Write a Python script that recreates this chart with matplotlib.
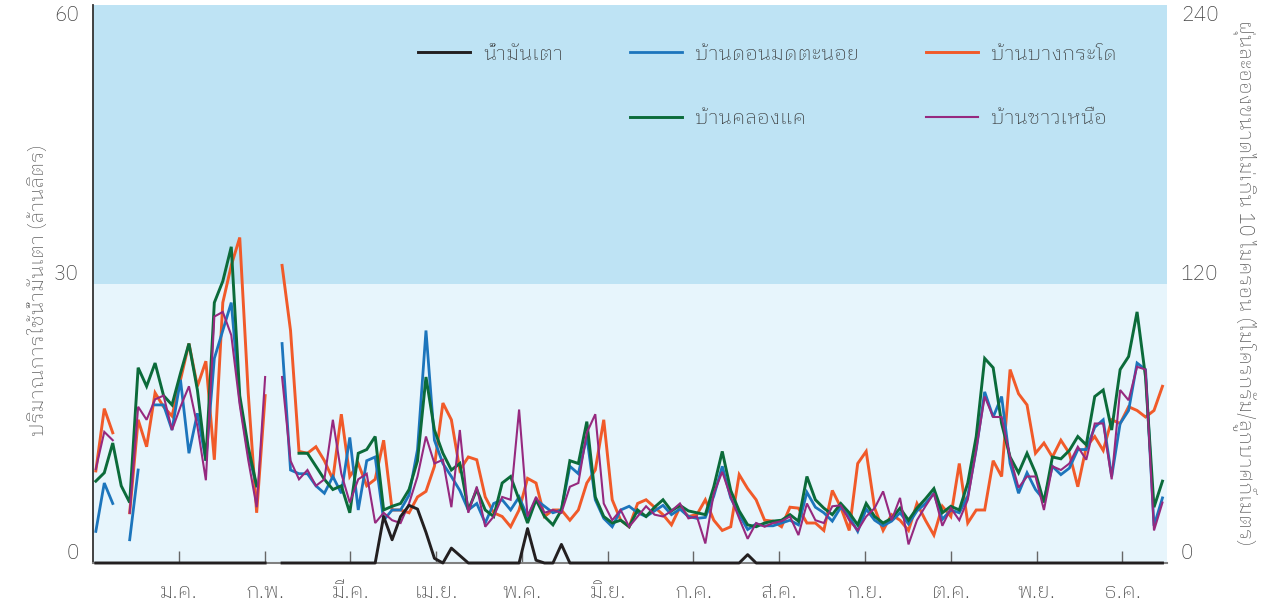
import matplotlib
matplotlib.use("Agg")
import matplotlib.pyplot as plt
import numpy as np
from matplotlib.lines import Line2D

plt.rcParams["font.family"] = ["IBM Plex Sans Thai Looped", "DejaVu Sans"]
plt.rcParams["font.weight"] = "light"

nan = np.nan

# ค่ารายวัน (ทุก 3 วัน) ตลอดช่วงข้อมูล
# น้ำมันเตา (ล้านลิตร) - แกนซ้าย
oil = [0, 0, 0, 0, 0, 0, 0, 0, 0, 0, 0, 0, 0, 0, 0, 0, 0, 0, 0, 0,
       0, nan, 0, 0, 0, 0, 0, 0, 0, 0, 0, 0, 0, 0, 5.0, 2.5, 5.0, 6.2, 5.8, 3.3,
       0.5, 0, 1.6, 0.8, 0, 0, 0, 0, 0, 0, 0, 3.7, 0.3, 0, 0, 2.0, 0, 0, 0, 0,
       0, 0, 0, 0, 0, 0, 0, 0, 0, 0, 0, 0, 0, 0, 0, 0, 0, 0.9, 0, 0,
       0, 0, 0, 0, 0, 0, 0, 0, 0, 0, 0, 0, 0, 0, 0, 0, 0, 0, 0, 0,
       0, 0, 0, 0, 0, 0, 0, 0, 0, 0, 0, 0, 0, 0, 0, 0, 0, 0, 0, 0,
       0, 0, 0, 0, 0, 0, 0]

# PM10 รายสถานี (ไมโครกรัม/ลูกบาศก์เมตร) - แกนขวา (เก็บในหน่วยแกนซ้าย x 4)
don_mod = [3.4, 8.6, 6.4, nan, 2.5, 10, nan, 17, 17, 14.3, 19.7, 11.8, 16.1, 11, 22, 25, 28, 17.5, 11.8, 8.3,
           nan, nan, 23.6, 10, 9.6, 9.6, 8.3, 7.5, 9.3, 7.5, 13.5, 5.7, 11, 11.4, 4.6, 5.7, 5.7, 7.3, 12.2, 25,
           13.2, 10.7, 9.3, 7.8, 5.7, 6.4, 4.3, 6.4, 6.8, 5.7, 7.1, 5.0, 6.8, 6.1, 5.4, 5.7, 10.4, 9.6, 13.6, 6.8,
           4.8, 3.9, 5.7, 6.1, 5.4, 5.0, 5.6, 6.2, 5.2, 5.8, 5.0, 4.8, 4.9, 7.2, 10.4, 7.0, 5.2, 3.6, 4.2, 4.0,
           4.0, 4.3, 4.6, 4.1, 7.6, 6.0, 5.4, 4.5, 6.0, 5.0, 3.4, 5.8, 4.6, 4.0, 4.5, 5.4, 4.2, 5.6, 6.4, 7.5,
           4.7, 5.7, 5.4, 7.2, 12.2, 18.4, 15.7, 17.9, 10.7, 7.5, 9.7, 7.9, 6.8, 10.4, 9.5, 10.2, 12.2, 12.2, 14.6, 15.4,
           9.3, 15.0, 16.4, 21.5, 20.8, 4.0, 7.0]

bang_krado = [9.9, 16.6, 14, nan, 5.4, 15.4, 12.5, 18.3, 16.8, 15.8, 19.7, 23.6, 19, 21.7, 11.1, 28, 32, 35, 18.3, 5.4,
              18, nan, 32, 25, 12, 11.8, 12.5, 11, 9, 16, 9.3, 10.7, 8.3, 9, 13.2, 5.7, 5.7, 5.4, 7.1, 7.7,
              10.4, 17.2, 15.4, 10, 11.4, 11.1, 7.1, 5.4, 5, 3.9, 5.7, 9.1, 8.6, 5, 5.7, 5.7, 4.6, 5.7, 8.6, 10,
              15.4, 6.8, 4.6, 3.9, 6.4, 6.8, 6.0, 5.2, 4.1, 6.0, 5.0, 5.2, 6.8, 4.6, 3.5, 3.9, 9.5, 8, 6.8, 4.6,
              4.5, 3.9, 6.0, 5.9, 4.3, 4.3, 3.5, 7.8, 6.0, 3.5, 10.7, 12, 5.9, 3.5, 5.2, 4.6, 3.5, 6.4, 4.6, 3.0,
              6.1, 5.0, 10.7, 4.3, 5.7, 5.7, 11, 9.3, 20.8, 18.2, 17, 11.8, 12.9, 11.4, 13.2, 11.8, 8.2, 12.5, 13.6, 12.1,
              15.4, 15.0, 16.8, 16.4, 15.7, 16.4, 19]

khlong_khae = [8.8, 9.7, 12.9, 8.3, 6.5, 21, 19, 21.5, 18, 17, 20.4, 23.6, 18.6, 11, 28, 30.3, 34, 18, 12.5, 8.3,
               nan, nan, nan, nan, 11.8, 11.8, 10.4, 9, 7.9, 8.3, 5.4, 11.8, 12.2, 13.6, 5.7, 6.1, 6.4, 7.9, 11, 20,
               14.3, 11.8, 10, 10.7, 5.7, 7.9, 5.7, 5, 8.6, 9.3, 6.8, 4.3, 6.8, 5, 4.1, 5.7, 11, 10.7, 15.2, 7.1,
               5, 4.3, 4.6, 3.9, 5.7, 5, 6.0, 6.8, 5.6, 6.2, 5.6, 5.4, 5.2, 8.2, 12, 7.8, 5.6, 4.1, 3.9, 4.3,
               4.5, 4.6, 5.2, 4.5, 9.3, 6.8, 5.9, 5.2, 6.4, 5.4, 4.1, 6.4, 5.0, 4.3, 4.8, 5.9, 4.6, 5.9, 6.9, 8.0,
               5.4, 6.1, 5.7, 8.6, 13.6, 22, 21, 15, 11.4, 9.7, 11.8, 9.7, 6.5, 11.4, 11.2, 12.1, 13.6, 12.7, 17.9, 18.6,
               14.3, 20.8, 22.2, 27, 20, 6.0, 8.8]

chao_nuea = [10.1, 14.1, 13.2, nan, 5.4, 16.8, 15.4, 17.6, 18, 14.3, 16.8, 19, 14.7, 8.9, 26.5, 27, 24.5, 17, 11.1, 6,
             20, nan, 20, 11, 9, 10, 8.3, 9, 15.4, 9.6, 6.5, 9, 9.6, 4.3, 5.4, 4.6, 4.3, 6.4, 9.3, 13.6,
             10.7, 11.1, 6, 14.3, 5.4, 8.2, 3.9, 5.0, 7.1, 6.8, 16.5, 5, 7.1, 5.4, 5.7, 5.4, 8.2, 8.6, 14, 16,
             6.4, 4.6, 5.7, 3.9, 5, 6.1, 5.2, 5.0, 5.6, 6.4, 4.8, 5.0, 2.1, 7.5, 9.8, 7.1, 4.8, 2.6, 4.3, 3.9,
             4.3, 4.5, 5.0, 3.0, 6.4, 4.6, 4.3, 6.1, 6.2, 4.6, 3.5, 5.0, 5.9, 7.7, 4.6, 7.0, 2.0, 4.6, 6.1, 7.5,
             4.0, 5.9, 4.6, 6.8, 12.2, 17.9, 15.7, 15.7, 11.4, 8.1, 9.3, 9.3, 5.7, 10.4, 10, 10.7, 12.5, 11.1, 15, 15,
             9, 18.6, 17.5, 21.1, 20.8, 3.5, 6.5]

months = ["ม.ค.", "ก.พ.", "มี.ค.", "เม.ย.", "พ.ค.", "มิ.ย.",
          "ก.ค.", "ส.ค.", "ก.ย.", "ต.ค.", "พ.ย.", "ธ.ค."]

series = [
    ("บ้านบางกระโด", bang_krado, "#f15a29", 2.1),
    ("บ้านดอนมดตะนอย", don_mod, "#1c75bc", 2.0),
    ("บ้านคลองแค", khlong_khae, "#0b6b3a", 2.1),
    ("บ้านชาวเหนือ", chao_nuea, "#96297f", 1.5),
]

day = np.arange(len(oil)) * 3 + 1
x = day / 30.4  # ตำแหน่งในหน่วยเดือน

fig = plt.figure(figsize=(12.73, 6.07), dpi=100)
ax = fig.add_axes([93 / 1273, 44 / 607, 1074 / 1273, 558 / 607])

ax.axhspan(30, 60, color="#bee3f4", lw=0, zorder=0)
ax.axhspan(0, 30, color="#e7f5fc", lw=0, zorder=0)

handles = {}
for name, vals, col, lw in series:
    (ln,) = ax.plot(x, vals, color=col, lw=lw, solid_joinstyle="miter", zorder=3)
    handles[name] = ln
(oil_ln,) = ax.plot(x, oil, color="#231f20", lw=2.1, zorder=4, clip_on=False)

ax.set_xlim(0, 12.52)
ax.set_ylim(0, 60)
ax.set_yticks([0, 30, 60])
ax.set_xticks(np.arange(1, 13))
ax.set_xticklabels(months)

for s in ("top", "right"):
    ax.spines[s].set_visible(False)
ax.spines["left"].set_color("#333333")
ax.spines["left"].set_linewidth(1.3)
ax.spines["bottom"].set_color("#808080")
ax.spines["bottom"].set_linewidth(1.5)

ax.tick_params(axis="y", length=0, pad=10, labelsize=15, labelcolor="#444444")
ax.tick_params(axis="x", direction="in", length=8.5, width=1, color="#666666",
               pad=14, labelsize=15, labelcolor="#444444")

ax2 = ax.twinx()
ax2.set_ylim(0, 240)
ax2.set_yticks([0, 120, 240])
for s in ax2.spines.values():
    s.set_visible(False)
ax2.tick_params(axis="y", length=0, pad=10, labelsize=15, labelcolor="#444444")

# ป้ายค่าบนสุดอยู่ใต้ขอบ ป้ายศูนย์อยู่เหนือเส้นฐาน
for axis in (ax, ax2):
    labels = axis.get_yticklabels()
    labels[0].set_va("bottom")
    labels[1].set_va("bottom")
    labels[2].set_va("top")

fig.text(38 / 1273, 1 - 290 / 607, "ปริมาณการใช้น้ำมันเตา (ล้านลิตร)", rotation=90,
         ha="center", va="center", fontsize=14.5, color="#555555")
fig.text(1245 / 1273, 1 - 283 / 607,
         "ฝุ่นละอองขนาดไม่เกิน 10 ไมครอน (ไมโครกรัม/ลูกบาศก์เมตร)", rotation=270,
         ha="center", va="center", fontsize=14.5, color="#555555")

blank = Line2D([], [], color="none")
leg_handles = [oil_ln, blank, handles["บ้านดอนมดตะนอย"], handles["บ้านคลองแค"],
               handles["บ้านบางกระโด"], handles["บ้านชาวเหนือ"]]
leg_labels = ["น้ำมันเตา", "", "บ้านดอนมดตะนอย", "บ้านคลองแค", "บ้านบางกระโด", "บ้านชาวเหนือ"]
leg = ax.legend(leg_handles, leg_labels, ncols=3, loc="upper left",
                bbox_to_anchor=(0.3026, 0.931), frameon=False, fontsize=14.5,
                handlelength=2.6, handletextpad=0.65, columnspacing=3.3,
                labelspacing=2.2, borderpad=0, borderaxespad=0)
for t in leg.get_texts():
    t.set_color("#333333")

fig.savefig("out.png", dpi=100)
